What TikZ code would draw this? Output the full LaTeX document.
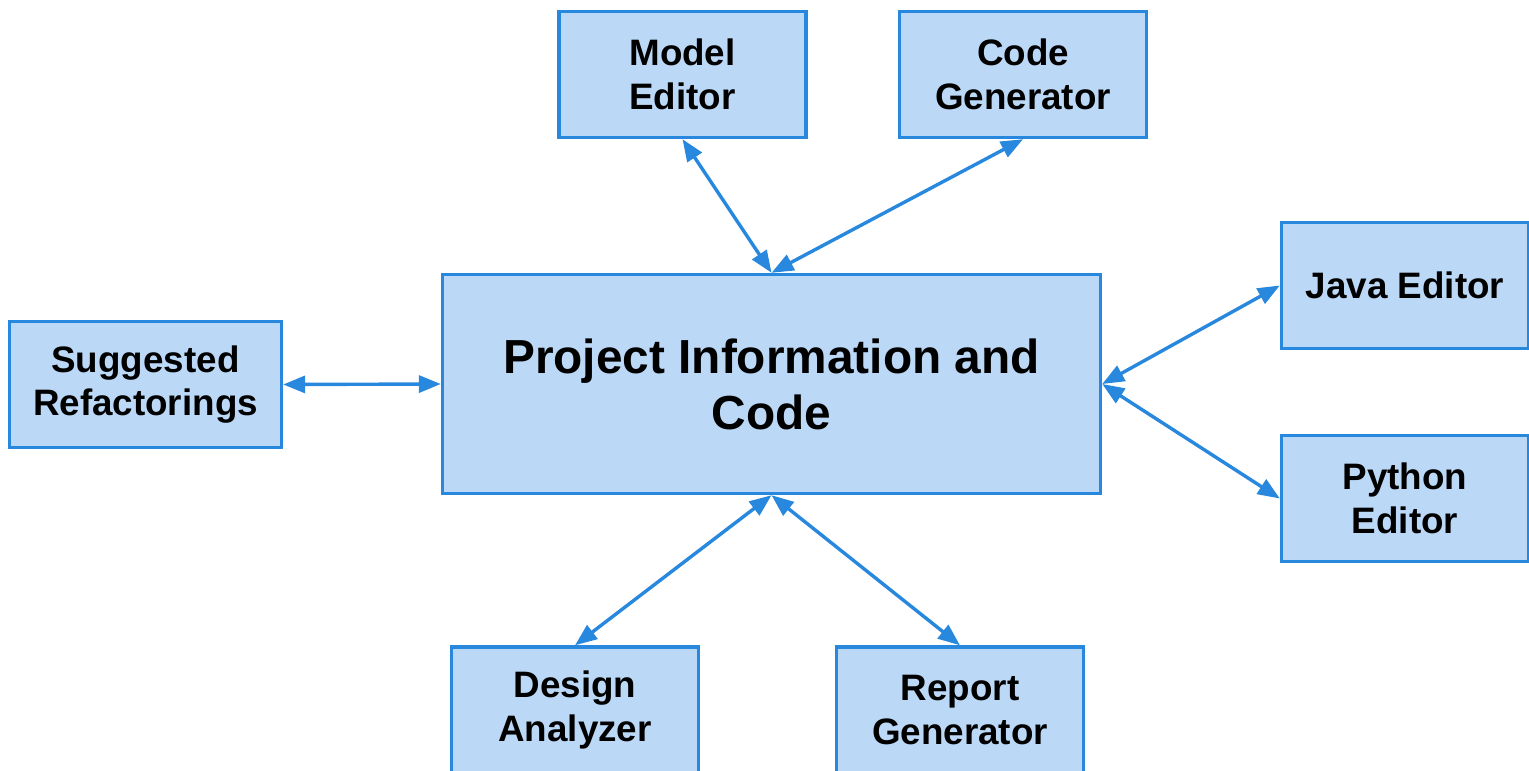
\documentclass[tikz,border=0pt]{standalone}
\usepackage{fontspec}
\setmainfont{Liberation Sans}
\usetikzlibrary{
  arrows.meta,
  chains,
  positioning,
  scopes
}
\definecolor{boxfill}{RGB}{187,216,246}
\definecolor{boxline}{RGB}{40,136,222}

\begin{document}
\begin{tikzpicture}[x=0.5pt,y=0.5pt,
      block/.style={
         rectangle,
         minimum width=123.5pt,
         minimum height=63pt,
         inner sep=0pt,
         line width=1.7pt,
         draw=boxline,
         fill=boxfill,
         align=center,
         font=\bfseries\fontsize{18.4}{21.8}\selectfont
      },
      mainblock/.style={
         block,
         minimum width=329pt,
         minimum height=109.5pt,
         font=\bfseries\fontsize{23.9}{28}\selectfont
      },
      point/.style={coordinate},>={Triangle[length=11pt,width=8.5pt]},
      tip/.style={<->,draw=boxline,line width=1.7pt}
    ]
    \clip (0,0) rectangle (1529,-770);
    \fill[white] (0,0) rectangle (1529,-770);
    % boxes
    \node (n12) [block] at (682.5,-74.5) {Model\\Editor};
    \node (n13) [block] at (1023,-74.5) {Code\\Generator};
    \node (n21) [block,minimum width=136pt] at (145.5,-384.5) {Suggested\\Refactorings};
    \node (n22) [mainblock] at (771.5,-384) {Project Information and\\Code};
    \node (n23) [block] at (1405,-285.5) {Java Editor};
    \node (n33) [block] at (1405,-498.5) {Python\\Editor};
    \node (n42) [block] at (575,-710) {Design\\Analyzer};
    \node (n43) [block] at (960,-710) {Report\\Generator};
    % end points
    \node (p12) [point] at (n12.south) {};
    \node (p13) [point] at (n13.south) {};
    \node (p21) [point] at (n21.east) {};
    \node (p23) [point] at (n23.west) {};
    \node (p33) [point] at (n33.west) {};
    \node (p42) [point] at (n42.north) {};
    \node (p43) [point] at (n43.north) {};
    \node (p22n) [point] at (n22.north) {};
    \node (p22s) [point] at (n22.south) {};
    \node (p22e) [point] at (n22.east) {};
    \node (p22w) [point] at (n22.west) {};
  { [start chain]
       \chainin (p12);
       \chainin (p22n)    [join=by tip];
  }
  { [start chain]
       \chainin (p13);
       \chainin (p22n)    [join=by tip];
  }
  { [start chain]
       \chainin (p21);
       \chainin (p22w)    [join=by tip];
  }
  { [start chain]
       \chainin (p22e);
       \chainin (p23)    [join=by tip];
  }
  { [start chain]
       \chainin (p22e);
       \chainin (p33)    [join=by tip];
  }
  { [start chain]
       \chainin (p22s);
       \chainin (p42)    [join=by tip];
  }
  { [start chain]
       \chainin (p22s);
       \chainin (p43)    [join=by tip];
  }
\end{tikzpicture}
\end{document}
